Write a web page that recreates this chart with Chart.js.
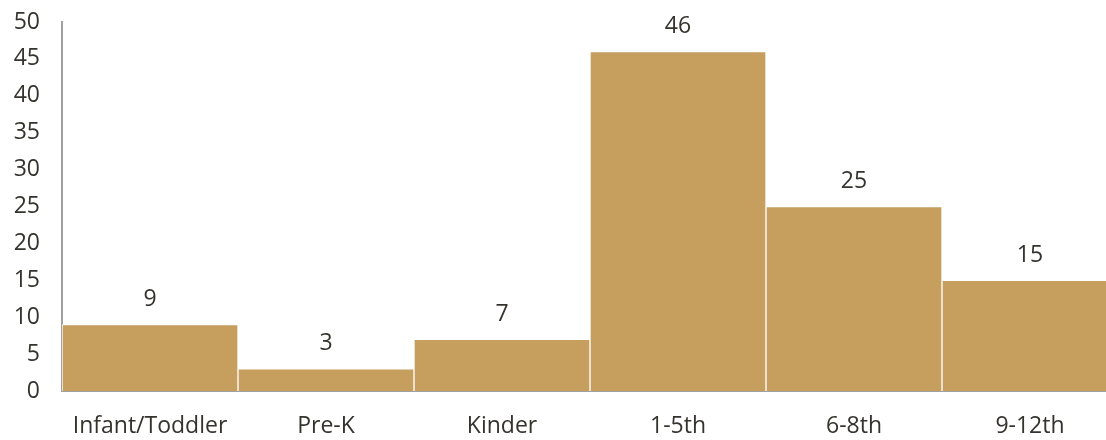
<!DOCTYPE html>
<html>
<head>
<meta charset="utf-8">
<script src="https://cdn.jsdelivr.net/npm/chart.js@4"></script>
<style>
  html, body { margin: 0; padding: 0; background: #fff; overflow: hidden; }
  #wrap { width: 1118px; height: 440px; position: relative; }
</style>
</head>
<body>
<div id="wrap"><canvas id="chart1"></canvas></div>
<script>
const categories = ["Infant/Toddler", "Pre-K", "Kinder", "1-5th", "6-8th", "9-12th"];
const counts = [9, 3, 7, 46, 25, 15];
const yMax = 50;
const yStep = 5;

const textColor = "#35332d";
const fontFamily = "'Open Sans', 'Noto Sans', sans-serif";

// labels above each bar
const valueLabels = {
    id: "valueLabels",
    afterDatasetsDraw(chart) {
        const ctx = chart.ctx;
        const meta = chart.getDatasetMeta(0);
        ctx.save();
        ctx.font = "23px " + fontFamily;
        ctx.fillStyle = textColor;
        ctx.textAlign = "center";
        ctx.textBaseline = "middle";
        meta.data.forEach((bar, i) => {
            ctx.fillText(String(counts[i]), bar.x, bar.y - 25);
        });
        ctx.restore();
    }
};

document.addEventListener("DOMContentLoaded", function () {
    const ctx = document.getElementById("chart1").getContext("2d");
    new Chart(ctx, {
        type: "bar",
        data: {
            labels: categories,
            datasets: [{
                data: counts,
                backgroundColor: "#c69e5e",
                borderColor: "#ffffff",
                borderWidth: 1,
                barPercentage: 1,
                categoryPercentage: 1
            }]
        },
        options: {
            responsive: true,
            maintainAspectRatio: false,
            animation: false,
            layout: { padding: { top: 0, right: 0, left: 0, bottom: 0 } },
            plugins: {
                legend: { display: false },
                tooltip: { enabled: false }
            },
            scales: {
                x: {
                    grid: { display: false, drawTicks: false },
                    border: { color: "#a0a0a0", width: 2 },
                    ticks: {
                        color: textColor,
                        font: { family: fontFamily, size: 23 },
                        padding: 22,
                        maxRotation: 0
                    },
                    afterFit(scale) { scale.height = 49; }
                },
                y: {
                    min: 0,
                    max: yMax,
                    grid: { display: false, drawTicks: false },
                    border: { color: "#a0a0a0", width: 2 },
                    ticks: {
                        stepSize: yStep,
                        color: textColor,
                        font: { family: fontFamily, size: 23 },
                        padding: 22
                    },
                    afterFit(scale) {
                        scale.width = 62;
                        scale.paddingTop = 22;
                        scale.paddingBottom = 0;
                    }
                }
            }
        },
        plugins: [valueLabels]
    });
});
</script>
</body>
</html>
